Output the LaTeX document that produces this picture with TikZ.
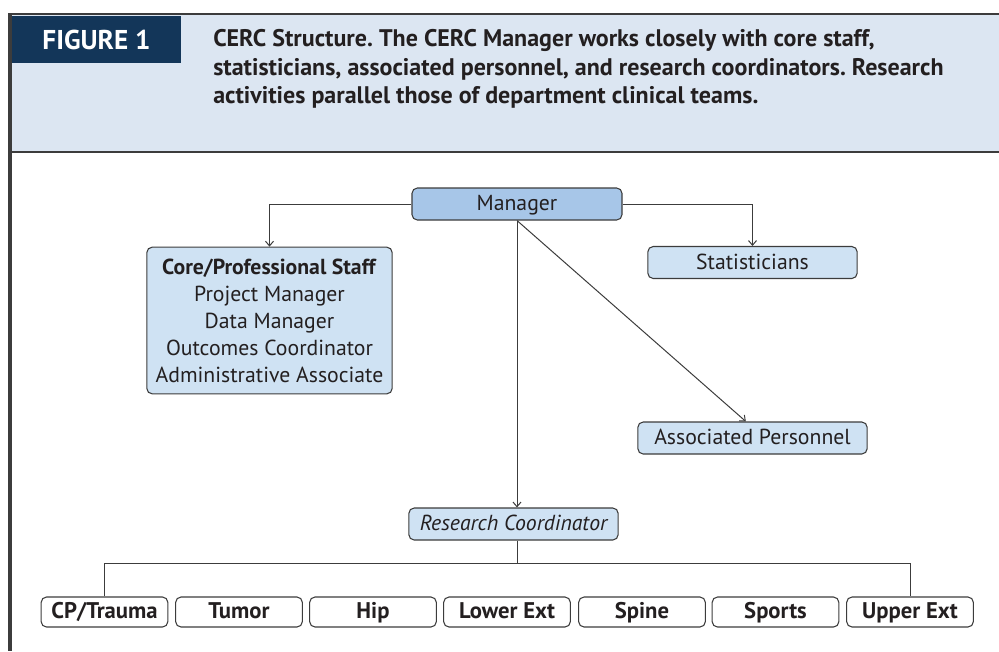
\documentclass[tikz,border=0pt]{standalone}
\usepackage{fontspec}
\setmainfont{PT Sans}
\usepackage{xcolor}
\usepackage{tikz}
\usetikzlibrary{arrows.meta}
\definecolor{navy}{HTML}{133659}
\definecolor{headfill}{HTML}{DCE6F2}
\definecolor{mgrblue}{HTML}{A7C6E8}
\definecolor{paleblue}{HTML}{CFE2F3}
\definecolor{ink}{HTML}{231F20}
\definecolor{edge}{HTML}{3C3C3C}
\tikzset{
  box/.style={draw=edge, line width=0.8pt, rounded corners=4pt, fill=paleblue, align=center, text=ink, inner sep=2pt, minimum height=24pt, font=\fontsize{16.3}{20.25}\selectfont},
  onerow/.style={text height=1.95ex, text depth=0pt},
  mgrbox/.style={box, onerow, fill=mgrblue},
  teambox/.style={box, onerow, fill=white, minimum width=95pt, minimum height=22.5pt, font=\fontsize{17}{20}\selectfont\bfseries},
  tab/.style={fill=navy, text=white, minimum width=126.75pt, minimum height=35.25pt, inner sep=0pt, font=\fontsize{20.4}{22}\selectfont\bfseries},
  caption/.style={align=left, text=ink, inner sep=0pt, font=\fontsize{18}{21.5}\selectfont\bfseries},
  line/.style={-{Straight Barb[length=3.5pt,width=6pt]}, draw=edge, line width=0.75pt},
  link/.style={draw=edge, line width=0.75pt}
}
\frenchspacing
\begin{document}
\begin{tikzpicture}[x=0.75pt, y=-0.75pt]
  \useasboundingbox (0,0) rectangle (999,651);
  % header band and frame
  \fill[headfill] (10,14) rectangle (999,152);
  \draw[edge, line width=2.2pt] (8,14) -- (999,14);
  \draw[edge, line width=1.5pt] (8,152) -- (999,152);
  \draw[edge, line width=2.4pt] (10,13) -- (10,651);
  \node[tab] (fig) at (96.5,39.5) {FIGURE 1};
  \node[caption, anchor=north west] (cap) at (213,29) {CERC Structure. The CERC Manager works closely with core staff,\\
    statisticians, associated personnel, and research coordinators. Research\\
    activities parallel those of department clinical teams.};

  % org chart
  \node[mgrbox, minimum width=157.5pt] (manager) at (517,204) {Manager};
  \node[box, minimum width=184pt, minimum height=110pt] (core) at (269.5,320.5) {\textbf{Core/Professional Staff}\\Project Manager\\Data Manager\\Outcomes Coordinator\\Administrative Associate};
  \node[box, onerow, minimum width=157pt] (stats) at (752.5,262.5) {Statisticians};
  \node[box, onerow, minimum width=172pt] (assoc) at (752.5,438) {Associated Personnel};
  \node[box, onerow, minimum width=157pt, font=\fontsize{16.3}{20}\selectfont\itshape] (coord) at (513.5,524) {Research Coordinator};

  % clinical teams
  \node[teambox] (cp) at (104.5,612) {CP/Trauma};
  \node[teambox] (tumor) at (239,612) {Tumor};
  \node[teambox] (hip) at (373,612) {Hip};
  \node[teambox] (lower) at (507,612) {Lower Ext};
  \node[teambox] (spine) at (642,612) {Spine};
  \node[teambox] (sports) at (775.5,612) {Sports};
  \node[teambox] (upper) at (910,612) {Upper Ext};
  \coordinate (bus) at (517,563);

  \draw[line] (manager.west) -| (core.north);
  \draw[line] (manager.east) -| (stats.north);
  \draw[line] (manager.south) -- (manager.south |- coord.north);
  \draw[line] (manager.south) -- ([xshift=-5pt]assoc.north);
  \draw[link] (manager.south |- coord.south) -- (bus);
  \draw[link] (cp.north) |- (bus) -| (upper.north);
\end{tikzpicture}
\end{document}
